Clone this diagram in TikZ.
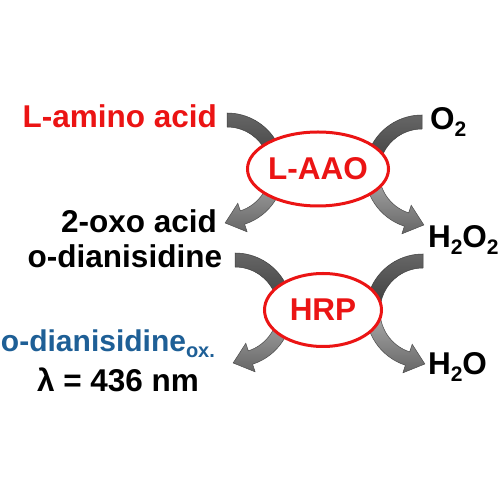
\documentclass[tikz,border=0pt]{standalone}
\usepackage{fontspec}
\setmainfont{Liberation Sans}
\usetikzlibrary{shapes.geometric,calc}
\definecolor{diablue}{RGB}{30,95,150}
\definecolor{enzred}{RGB}{235,20,20}
\newcommand\subtx[1]{\raisebox{-7pt}{\fontsize{21}{24}\selectfont #1}}
\begin{document}
\begin{tikzpicture}[x=1pt,y=1pt]
\tikzset{
  lbl/.style={font=\fontsize{31.5}{36}\selectfont\bfseries, inner sep=0pt, outer sep=0pt},
  enz/.style={ellipse, draw=enzred, line width=3pt, fill=white, text=enzred,
    font=\fontsize{31.5}{36}\selectfont\bfseries, inner sep=0pt},
  inarrow/.style={draw=black!75, line width=0.5pt, top color=black!60, bottom color=black!78},
  outarrow/.style={draw=black!70, line width=0.5pt, top color=black!30, bottom color=black!60},
}
\fill[white] (0,0) rectangle (500,500);
\useasboundingbox (0,0) rectangle (500,500);

% circle centres of the curved block arrows
\coordinate (cLa) at (227,330);
\coordinate (cRa) at (422,328);
\coordinate (cLh) at (235,190);
\coordinate (cRh) at (423,189);

% ---- L-AAO arrows ----
\path[inarrow] ($(cLa)+(90:57)$) arc[start angle=90,end angle=-5,radius=57]
  -- ($(cLa)+(-5:43)$) arc[start angle=-5,end angle=90,radius=43] -- cycle;
\path[outarrow] ($(cLa)+(5:57)$) arc[start angle=5,end angle=-72,radius=57]
  -- ($(cLa)+(-72:65)$) -- ($(cLa)+(-92:53)$) -- ($(cLa)+(-72:35)$)
  -- ($(cLa)+(-72:43)$) arc[start angle=-72,end angle=5,radius=43] -- cycle;
\path[inarrow] ($(cRa)+(90:57)$) arc[start angle=90,end angle=185,radius=57]
  -- ($(cRa)+(185:43)$) arc[start angle=185,end angle=90,radius=43] -- cycle;
\path[outarrow] ($(cRa)+(175:57)$) arc[start angle=175,end angle=252,radius=57]
  -- ($(cRa)+(252:65)$) -- ($(cRa)+(272:53)$) -- ($(cRa)+(252:35)$)
  -- ($(cRa)+(252:43)$) arc[start angle=252,end angle=175,radius=43] -- cycle;

% ---- HRP arrows ----
\path[inarrow] ($(cLh)+(90:57)$) arc[start angle=90,end angle=-5,radius=57]
  -- ($(cLh)+(-5:43)$) arc[start angle=-5,end angle=90,radius=43] -- cycle;
\path[outarrow] ($(cLh)+(5:57)$) arc[start angle=5,end angle=-72,radius=57]
  -- ($(cLh)+(-72:65)$) -- ($(cLh)+(-92:53)$) -- ($(cLh)+(-72:35)$)
  -- ($(cLh)+(-72:43)$) arc[start angle=-72,end angle=5,radius=43] -- cycle;
\path[inarrow] ($(cRh)+(90:57)$) arc[start angle=90,end angle=185,radius=57]
  -- ($(cRh)+(185:43)$) arc[start angle=185,end angle=90,radius=43] -- cycle;
\path[outarrow] ($(cRh)+(175:57)$) arc[start angle=175,end angle=252,radius=57]
  -- ($(cRh)+(252:65)$) -- ($(cRh)+(272:53)$) -- ($(cRh)+(252:35)$)
  -- ($(cRh)+(252:43)$) arc[start angle=252,end angle=175,radius=43] -- cycle;

% ---- enzymes ----
\node[enz, minimum width=118pt, minimum height=74pt] (laao) at (318,331) {L-AAO};
\node[enz, minimum width=117pt, minimum height=73pt] (hrp) at (323,190) {HRP};

% ---- labels ----
\node[lbl, text=enzred, anchor=base east] (aa) at (217,372) {L-amino acid};
\node[lbl, anchor=base west] (o2) at (430,370) {O\subtx{2}};
\node[lbl, anchor=base east] (oxo) at (217,267) {2-oxo acid};
\node[lbl, anchor=base west] (h2o2) at (428,252) {H\subtx{2}O\subtx{2}};
\node[lbl, anchor=base east] (dia) at (222,232) {o-dianisidine};
\node[lbl, text=diablue, anchor=base west, font=\fontsize{30}{34}\selectfont\bfseries] (diaox) at (1,148)
  {o-dianisidine\raisebox{-6pt}{\fontsize{20}{24}\selectfont ox.}};
\node[lbl, anchor=base] (lam) at (118,108) {λ = 436 nm};
\node[lbl, anchor=base west] (h2o) at (428,125) {H\subtx{2}O};
\end{tikzpicture}
\end{document}
